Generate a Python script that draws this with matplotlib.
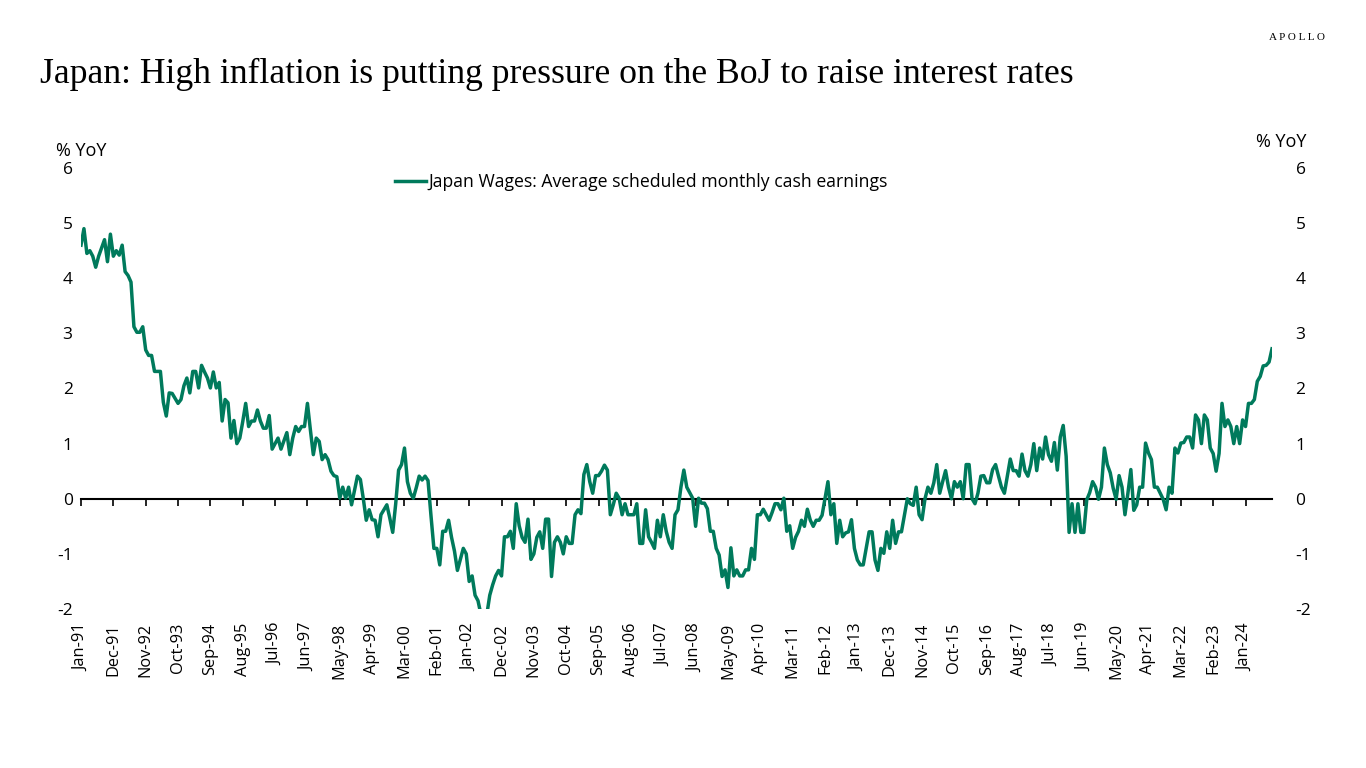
import numpy as np
import pandas as pd
import matplotlib
matplotlib.use("Agg")
import matplotlib.pyplot as plt

# Japan wages, average scheduled monthly cash earnings, % YoY (Jan-91 .. Oct-24)
wages_1991_2000 = [
    4.6, 4.9, 4.45, 4.5, 4.4, 4.2, 4.4, 4.55, 4.7, 4.3, 4.8, 4.4,
    4.5, 4.42, 4.6, 4.12, 4.05, 3.93, 3.12, 3.02, 3.02, 3.12, 2.7, 2.6,
    2.6, 2.31, 2.31, 2.31, 1.75, 1.5, 1.92, 1.91, 1.82, 1.73, 1.8, 2.05,
    2.19, 1.92, 2.31, 2.31, 2.01, 2.42, 2.3, 2.19, 2.01, 2.3, 2.01, 2.11,
    1.41, 1.8, 1.74, 1.1, 1.42, 1.0, 1.1, 1.4, 1.73, 1.31, 1.41, 1.41,
    1.61, 1.41, 1.28, 1.28, 1.51, 0.9, 1.0, 1.1, 0.9, 1.05, 1.2, 0.8,
    1.1, 1.31, 1.22, 1.31, 1.31, 1.73, 1.25, 0.8, 1.1, 1.04, 0.71, 0.8,
    0.71, 0.5, 0.42, 0.4, 0.01, 0.21, 0.01, 0.21, -0.11, 0.15, 0.41, 0.35,
    0.0, -0.39, -0.2, -0.38, -0.39, -0.69, -0.29, -0.2, -0.11, -0.35, -0.61, -0.1,
    0.52, 0.62, 0.92, 0.31, 0.1, 0.01, 0.2, 0.41, 0.34, 0.41, 0.33, -0.3,
]
wages_2001_2010 = [
    -0.9, -0.9, -1.2, -0.59, -0.59, -0.39, -0.7, -0.95, -1.3, -1.1, -0.9, -1.0,
    -1.5, -1.4, -1.75, -1.85, -2.1, -2.2, -2.1, -1.75, -1.56, -1.4, -1.3, -1.4,
    -0.69, -0.69, -0.59, -0.9, -0.09, -0.49, -0.7, -0.79, -0.37, -1.1, -1.0, -0.7,
    -0.6, -0.9, -0.37, -0.37, -1.41, -0.79, -0.69, -0.79, -1.0, -0.69, -0.81, -0.81,
    -0.29, -0.2, -0.27, 0.44, 0.62, 0.31, 0.1, 0.42, 0.42, 0.5, 0.61, 0.52,
    -0.29, -0.11, 0.1, 0.01, -0.29, -0.09, -0.29, -0.29, -0.29, -0.09, -0.81, -0.81,
    -0.2, -0.69, -0.79, -0.9, -0.39, -0.69, -0.29, -0.59, -0.79, -0.9, -0.29, -0.2,
    0.21, 0.52, 0.21, 0.11, 0.01, -0.5, 0.01, -0.08, -0.08, -0.18, -0.59, -0.59,
    -0.9, -1.02, -1.41, -1.29, -1.61, -0.89, -1.4, -1.29, -1.4, -1.4, -1.29, -1.29,
    -0.9, -1.1, -0.29, -0.29, -0.19, -0.29, -0.39, -0.25, -0.09, -0.09, -0.2, 0.01,
]
wages_2011_2024 = [
    -0.59, -0.49, -0.9, -0.7, -0.59, -0.39, -0.5, -0.19, -0.39, -0.5, -0.39, -0.39,
    -0.3, 0.0, 0.31, -0.29, -0.09, -0.81, -0.39, -0.69, -0.62, -0.6, -0.38, -0.9,
    -1.11, -1.2, -1.2, -0.9, -0.6, -0.6, -1.11, -1.3, -0.9, -0.99, -0.6, -0.9,
    -0.39, -0.81, -0.6, -0.6, -0.3, 0.0, -0.09, -0.12, 0.21, -0.29, -0.38, 0.0,
    0.21, 0.1, 0.29, 0.62, 0.1, 0.31, 0.51, 0.21, 0.0, 0.31, 0.21, 0.31,
    0.0, 0.62, 0.62, 0.0, -0.09, 0.1, 0.41, 0.42, 0.29, 0.29, 0.53, 0.62,
    0.41, 0.21, 0.1, 0.41, 0.72, 0.51, 0.51, 0.41, 0.81, 0.51, 0.41, 0.62,
    1.0, 0.51, 0.92, 0.72, 1.12, 0.8, 0.68, 1.02, 0.52, 1.12, 1.33, 0.77,
    -0.61, -0.09, -0.61, -0.09, -0.61, -0.61, -0.02, 0.11, 0.31, 0.21, -0.01, 0.21,
    0.92, 0.62, 0.47, 0.19, -0.01, 0.42, 0.21, -0.29, 0.1, 0.53, -0.21, -0.11,
    0.21, 0.21, 1.01, 0.83, 0.71, 0.21, 0.21, 0.1, -0.01, -0.2, 0.21, 0.1,
    0.92, 0.83, 1.01, 1.02, 1.12, 1.12, 0.92, 1.52, 1.43, 1.0, 1.52, 1.43,
    0.92, 0.82, 0.5, 0.82, 1.73, 1.31, 1.43, 1.31, 1.0, 1.31, 1.0, 1.43,
    1.31, 1.73, 1.73, 1.8, 2.13, 2.22, 2.41, 2.42, 2.48, 2.72,
]
wages = wages_1991_2000 + wages_2001_2010 + wages_2011_2024

months = pd.date_range("1991-01-01", periods=len(wages), freq="MS")
month_labels = [d.strftime("%b-%y") for d in months]
label_step = 11

title = "Japan: High inflation is putting pressure on the BoJ to raise interest rates"
series_name = "Japan Wages: Average scheduled monthly cash earnings"
y_ticks = [-2, -1, 0, 1, 2, 3, 4, 5, 6]

green = "#007A5C"
sans = ["Open Sans", "DejaVu Sans"]
serif = ["Liberation Serif", "DejaVu Serif"]

fig = plt.figure(figsize=(13.66, 7.68), dpi=100)
ax = fig.add_axes([81 / 1366, 1 - 609 / 768, (1272 - 81) / 1366, (609 - 168) / 768])

x = np.arange(len(wages))
ax.plot(x, wages, color=green, lw=2.5, label=series_name, solid_joinstyle="round")

ax.set_xlim(0, len(wages) - 1)
ax.set_ylim(-2, 6)

# category labels at the bottom, rotated
tick_pos = x[::label_step]
ax.set_xticks(tick_pos)
ax.set_xticklabels([month_labels[i] for i in tick_pos], rotation=90,
                   family=sans, fontsize=11.8)
ax.tick_params(axis="x", length=0, pad=10)

ax.set_yticks(y_ticks)
ax.set_yticklabels([str(t) for t in y_ticks], family=sans, fontsize=12.5)
ax.tick_params(axis="y", length=0, pad=6)
for s in ax.spines.values():
    s.set_visible(False)

# zero line with tick marks (secondary axis placed at y=0)
zero_frac = (0 - (-2)) / (6 - (-2))
zax = ax.secondary_xaxis(zero_frac)
zax.set_xticks(tick_pos)
zax.set_xticklabels([])
zax.tick_params(axis="x", direction="out", length=5, width=1.2, color="black")
zax.spines["bottom"].set_linewidth(1.5)
zax.spines["bottom"].set_color("black")

# right-hand axis labels
rax = ax.secondary_yaxis("right")
rax.set_yticks(y_ticks)
rax.set_yticklabels([str(t) for t in y_ticks], family=sans, fontsize=12.5)
rax.tick_params(axis="y", length=0, pad=17)
rax.spines["right"].set_visible(False)

fig.text(81 / 1366, 1 - 151 / 768, "% YoY", family=sans, fontsize=13,
         ha="center", va="center")
fig.text(1281 / 1366, 1 - 142 / 768, "% YoY", family=sans, fontsize=13,
         ha="center", va="center")

leg = ax.legend(loc="center", bbox_to_anchor=(641 / 1366, 1 - 182 / 768),
                bbox_transform=fig.transFigure, frameon=False,
                prop={"family": sans, "size": 12.7}, handlelength=1.8,
                handletextpad=0.1)

fig.text(40 / 1366, 1 - 74 / 768, title, family=serif, fontsize=25.7,
         ha="left", va="center")
fig.text(1297 / 1366, 1 - 38 / 768, "A P O L L O", family=serif, fontsize=8,
         ha="center", va="center")

fig.savefig("out.png", dpi=100, facecolor="white")
